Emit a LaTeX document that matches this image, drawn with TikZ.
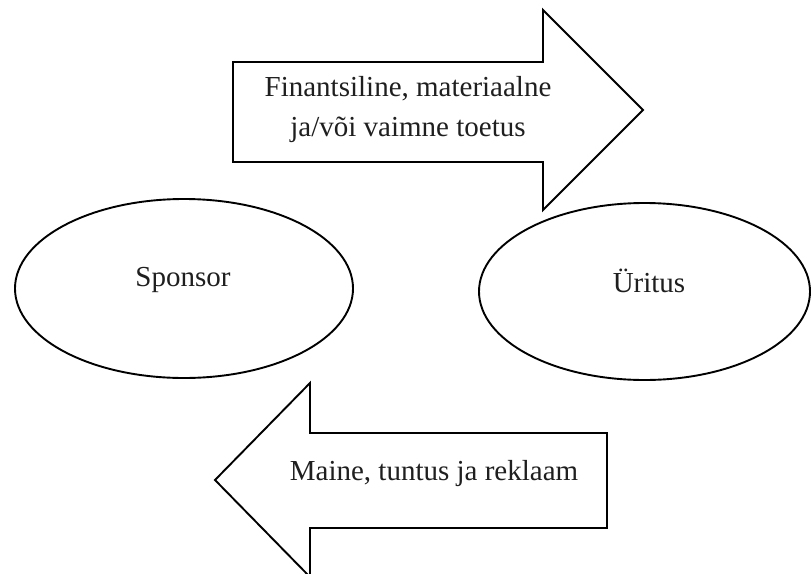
\documentclass[tikz,border=0pt]{standalone}
\usepackage{fontspec}
\setmainfont{Liberation Serif}
\usetikzlibrary{shapes.geometric}
\begin{document}
\begin{tikzpicture}[x=1pt,y=-1pt,
  outline/.style={draw=black,line width=1.9pt,line join=miter},
  oval/.style={ellipse,draw=black,line width=1.9pt,inner sep=0pt,outer sep=0pt},
  lbl/.style={font=\fontsize{29}{40}\selectfont,align=center,inner sep=0pt,text=black!88}]
\useasboundingbox (0,0) rectangle (811,573);
\fill[white] (0,0) rectangle (811,573);
% ellipses
\node[oval,minimum width=338pt,minimum height=179pt] (sponsor) at (184,288.5) {};
\node[oval,minimum width=331pt,minimum height=177pt] (uritus) at (644.5,291.5) {};
\node[lbl] (tsponsor) at (183,280) {Sponsor};
\node[lbl] (turitus) at (649,281) {Üritus};
% top arrow (right)
\draw[outline] (233,62) -- (543,62) -- (543,10) -- (643,110) -- (543,210) -- (543,162) -- (233,162) -- cycle;
\node[lbl] (ttop) at (408,110) {Finantsiline, materiaalne\\ja/või vaimne toetus};
% bottom arrow (left)
\draw[outline] (607,433) -- (310,433) -- (310,383) -- (215,480) -- (310,577) -- (310,528) -- (607,528) -- cycle;
\node[lbl] (tbottom) at (434,474) {Maine, tuntus ja reklaam};
\end{tikzpicture}
\end{document}
